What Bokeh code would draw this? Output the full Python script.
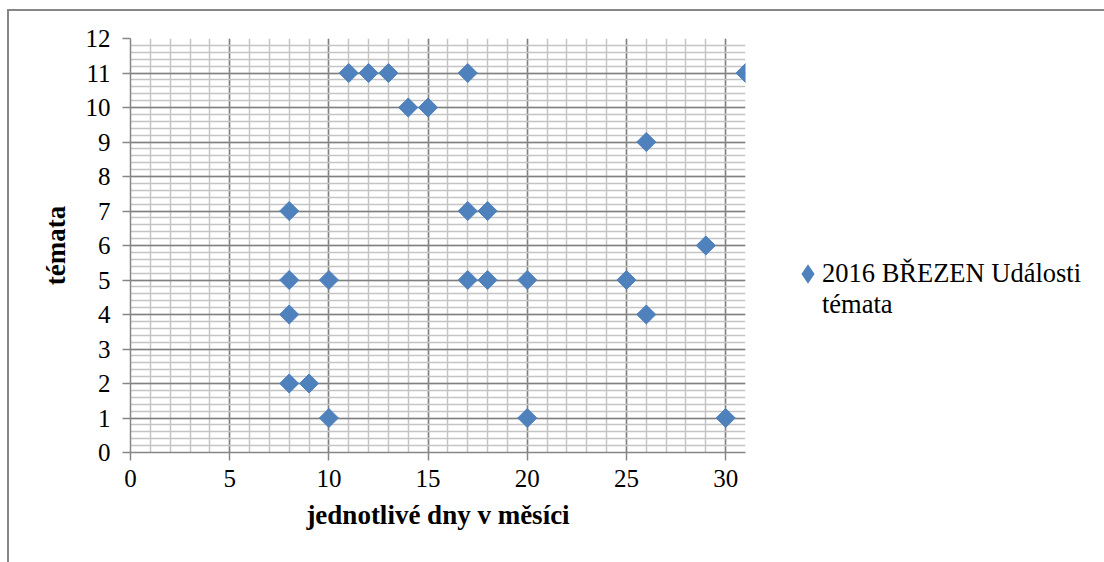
import math
from bokeh.plotting import figure
from bokeh.models import Range1d, SingleIntervalTicker, Legend, LegendItem
from bokeh.embed import file_html
from bokeh.resources import INLINE

# data
days = [8, 8, 8, 8, 9, 10, 10, 11, 12, 13, 14, 15, 17, 17, 17, 18, 18, 20, 20, 25, 26, 26, 29, 30, 31]
topics = [7, 5, 4, 2, 2, 5, 1, 11, 11, 11, 10, 10, 11, 7, 5, 7, 5, 5, 1, 5, 9, 4, 6, 1, 11]
series_line1 = "2016 BŘEZEN Události"
series_line2 = "témata"
x_title = "jednotlivé dny v měsíci"
y_title = "témata"

FONT = "Liberation Serif"
BLUE = "#4F81BD"
NAN = float("nan")

p = figure(width=1095, height=551, output_backend="svg", toolbar_location=None,
           x_range=Range1d(0, 31), y_range=Range1d(0, 12),
           min_border_left=121, min_border_right=359, min_border_top=27, min_border_bottom=110,
           frame_width=615, frame_height=414)
p.styles = {"margin-left": "7px", "margin-top": "9px",
            "border-left": "2px solid #868686", "border-top": "2px solid #868686"}
p.outline_line_color = None
p.background_fill_color = "white"
p.border_fill_color = "white"

xt = SingleIntervalTicker(interval=5, num_minor_ticks=5)
yt = SingleIntervalTicker(interval=1, num_minor_ticks=5)
p.xaxis.ticker = xt
p.yaxis.ticker = yt
p.xgrid.ticker = xt
p.ygrid.ticker = yt

for g in (p.xgrid, p.ygrid):
    g.grid_line_color = "#808080"
    g.grid_line_width = 1.5
    g.minor_grid_line_color = "#c4c4c4"
    g.minor_grid_line_width = 1.5

for ax in (p.xaxis, p.yaxis):
    ax.axis_line_color = "#868686"
    ax.axis_line_width = 1.5
    ax.major_tick_line_color = "#868686"
    ax.major_tick_line_width = 1.5
    ax.major_tick_out = 8
    ax.major_tick_in = 0
    ax.minor_tick_line_color = None
    ax.major_label_text_font = FONT
    ax.major_label_text_font_size = "25px"
    ax.major_label_text_color = "black"
    ax.axis_label_text_font = FONT
    ax.axis_label_text_font_style = "bold"
    ax.axis_label_text_font_size = "27px"
    ax.axis_label_text_color = "black"

p.xaxis.axis_label = x_title
p.yaxis.axis_label = y_title
p.xaxis.major_label_standoff = 9
p.yaxis.major_label_standoff = 12
p.xaxis.axis_label_standoff = 10
p.yaxis.axis_label_standoff = 12

r = p.scatter(days, topics, marker="square", angle=math.pi / 4, size=13.5,
              fill_color=BLUE, line_color=BLUE)

# legend glyph (diamond, enlarged by its outline) and a blank glyph for the wrapped second line
r_leg = p.scatter(x=[NAN], y=[NAN], marker="diamond", fill_color=BLUE, line_color=BLUE,
                  line_width=4.5, line_join="miter")
r_blank = p.scatter(x=[NAN], y=[NAN], marker="square", fill_alpha=0, line_alpha=0)

legend = Legend(items=[LegendItem(label=series_line1, renderers=[r_leg]),
                       LegendItem(label=series_line2, renderers=[r_blank])],
                location=(48, 132), orientation="vertical",
                label_text_font=FONT, label_text_font_size="26.5px", label_text_color="black",
                glyph_width=29, glyph_height=29, label_standoff=0, spacing=0,
                padding=0, margin=0, border_line_color=None, background_fill_alpha=0)
p.add_layout(legend, "right")

open("out.html", "w").write(file_html(p, INLINE))
